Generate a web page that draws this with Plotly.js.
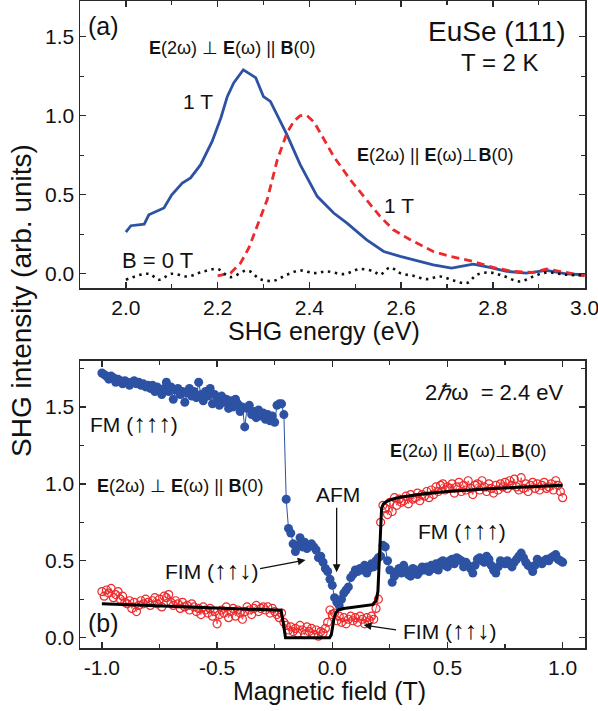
<!DOCTYPE html>
<html>
<head>
<meta charset="utf-8">
<script src="https://cdn.plot.ly/plotly-3.0.1.min.js"></script>
<style>
html,body{margin:0;padding:0;background:#fff;}
#chart{width:598px;height:711px;}
</style>
</head>
<body>
<div id="chart"></div>
<script>
// ---------- Panel (a): SHG spectra ----------
const energyPerp = [2.0,2.011,2.04,2.05,2.083,2.10,2.123,2.141,2.163,2.188,2.207,2.221,2.235,2.256,2.283,2.30,2.315,2.351,2.38,2.417,2.453,2.482,2.525,2.562,2.598,2.634,2.67,2.71,2.757,2.793,2.83,2.873,2.917,2.96,3.0];
const shgPerp1T = [0.264,0.304,0.314,0.373,0.416,0.50,0.574,0.606,0.69,0.837,0.985,1.12,1.207,1.29,1.24,1.12,1.09,0.88,0.69,0.49,0.384,0.32,0.215,0.141,0.11,0.082,0.057,0.036,0.061,0.04,0.015,0.004,0.021,0.0,-0.006];

const energyPar = [2.2,2.228,2.25,2.268,2.286,2.308,2.33,2.351,2.366,2.38,2.395,2.41,2.424,2.453,2.489,2.525,2.554,2.583,2.62,2.67,2.707,2.757,2.80,2.844,2.888,2.917,2.96,3.0];
const shgPar1T = [-0.013,0.004,0.068,0.163,0.30,0.468,0.72,0.89,0.964,1.0,1.0,0.96,0.89,0.742,0.595,0.468,0.363,0.278,0.215,0.141,0.11,0.078,0.04,0.015,0.008,0.03,0.006,-0.013];

const energyZero = [2.0,2.05,2.072,2.10,2.134,2.163,2.20,2.228,2.265,2.293,2.322,2.351,2.38,2.41,2.438,2.475,2.51,2.54,2.554,2.576,2.598,2.627,2.656,2.685,2.714,2.743,2.765,2.793,2.822,2.859,2.888,2.917,2.96,3.0];
const shgZero = [-0.038,0.0,-0.038,0.0,-0.017,0.008,0.03,-0.021,0.021,-0.034,-0.044,-0.006,0.021,0.004,0.015,-0.002,0.03,0.015,-0.006,0.04,0.004,-0.013,-0.034,-0.017,-0.042,-0.059,-0.006,0.008,-0.013,-0.049,-0.017,0.008,-0.006,-0.01];

// ---------- Panel (b): field dependence at 2.4 eV ----------
const fieldT = [-1.00,-0.99,-0.98,-0.97,-0.96,-0.95,-0.94,-0.93,-0.92,-0.91,-0.90,-0.89,-0.88,-0.87,-0.86,-0.85,-0.84,-0.83,-0.82,-0.81,-0.80,-0.79,-0.78,-0.77,-0.76,-0.75,-0.74,-0.73,-0.72,-0.71,-0.70,-0.69,-0.68,-0.67,-0.66,-0.65,-0.64,-0.63,-0.62,-0.61,-0.60,-0.59,-0.58,-0.57,-0.56,-0.55,-0.54,-0.53,-0.52,-0.51,-0.50,-0.49,-0.48,-0.47,-0.46,-0.45,-0.44,-0.43,-0.42,-0.41,-0.40,-0.39,-0.38,-0.37,-0.36,-0.35,-0.34,-0.33,-0.32,-0.31,-0.30,-0.29,-0.28,-0.27,-0.26,-0.25,-0.24,-0.23,-0.22,-0.21,-0.20,-0.19,-0.18,-0.17,-0.16,-0.15,-0.14,-0.13,-0.12,-0.11,-0.10,-0.09,-0.08,-0.07,-0.06,-0.05,-0.04,-0.03,-0.02,-0.01,0.00,0.01,0.02,0.03,0.04,0.05,0.06,0.07,0.08,0.09,0.10,0.11,0.12,0.13,0.14,0.15,0.16,0.17,0.18,0.19,0.20,0.21,0.22,0.23,0.24,0.25,0.26,0.27,0.28,0.29,0.30,0.31,0.32,0.33,0.34,0.35,0.36,0.37,0.38,0.39,0.40,0.41,0.42,0.43,0.44,0.45,0.46,0.47,0.48,0.49,0.50,0.51,0.52,0.53,0.54,0.55,0.56,0.57,0.58,0.59,0.60,0.61,0.62,0.63,0.64,0.65,0.66,0.67,0.68,0.69,0.70,0.71,0.72,0.73,0.74,0.75,0.76,0.77,0.78,0.79,0.80,0.81,0.82,0.83,0.84,0.85,0.86,0.87,0.88,0.89,0.90,0.91,0.92,0.93,0.94,0.95,0.96,0.97,0.98,0.99,1.00];

const shgBluePerp = [
1.72,1.71,1.70,1.68,1.70,1.69,1.66,1.68,1.67,1.65,1.67,
1.66,1.64,1.66,1.67,1.65,1.66,1.64,1.65,1.63,1.64,
1.62,1.64,1.60,1.63,1.61,1.58,1.62,1.66,1.60,1.63,
1.55,1.61,1.62,1.58,1.60,1.53,1.59,1.62,1.57,1.60,
1.56,1.66,1.58,1.54,1.60,1.57,1.62,1.52,1.58,1.55,
1.51,1.57,1.53,1.55,1.49,1.54,1.50,1.55,1.52,1.47,
1.50,1.37,1.49,1.51,1.45,1.47,1.43,1.48,1.44,1.46,
1.42,1.45,1.41,1.44,1.40,1.51,1.52,1.52,1.45,0.90,
0.71,0.68,0.61,0.56,0.60,0.65,0.59,0.62,0.58,0.60,
0.61,0.59,0.57,0.52,0.53,0.49,0.45,0.43,0.38,0.34,
0.26,0.23,0.21,0.25,0.29,0.31,0.33,0.39,0.41,0.44,
0.43,0.45,0.44,0.47,0.42,0.45,0.48,0.46,0.50,0.52,
0.53,0.60,0.59,0.50,0.44,0.36,0.40,0.43,0.45,0.42,
0.47,0.44,0.41,0.40,0.45,0.44,0.41,0.43,0.46,0.44,
0.46,0.43,0.47,0.45,0.48,0.44,0.49,0.50,0.47,0.46,
0.50,0.51,0.48,0.52,0.51,0.50,0.46,0.49,0.47,0.45,
0.42,0.47,0.51,0.52,0.50,0.49,0.53,0.51,0.47,0.44,
0.42,0.46,0.50,0.49,0.48,0.50,0.48,0.46,0.49,0.51,
0.53,0.55,0.52,0.49,0.47,0.46,0.43,0.47,0.51,0.49,
0.48,0.50,0.51,0.50,0.52,0.53,0.54,0.51,0.50,0.49];

const shgRedPar = [
0.30,0.27,0.31,0.29,0.32,0.26,0.28,0.30,0.25,0.27,0.23,
0.22,0.24,0.19,0.23,0.17,0.21,0.24,0.22,0.25,0.23,
0.21,0.24,0.26,0.22,0.25,0.20,0.27,0.26,0.28,0.23,
0.21,0.24,0.22,0.19,0.23,0.20,0.21,0.18,0.22,0.20,
0.17,0.19,0.15,0.20,0.18,0.16,0.19,0.14,0.17,0.09,
0.15,0.18,0.16,0.20,0.13,0.17,0.19,0.14,0.18,0.16,
0.12,0.17,0.20,0.18,0.15,0.19,0.21,0.17,0.19,0.20,
0.18,0.20,0.16,0.19,0.17,0.15,0.13,0.16,0.10,0.08,
0.05,0.07,0.04,0.06,0.03,0.08,0.05,0.02,0.07,0.04,
0.06,0.02,0.05,0.01,0.04,0.03,0.06,0.10,0.18,0.15,
0.16,0.11,0.14,0.10,0.13,0.09,0.12,0.14,0.11,0.13,
0.10,0.14,0.12,0.09,0.13,0.11,0.14,0.12,0.19,0.25,
0.75,0.86,0.84,0.80,0.88,0.82,0.91,0.86,0.90,0.88,
0.89,0.92,0.87,0.93,0.90,0.91,0.94,0.89,0.93,0.92,
0.95,0.91,0.96,0.93,0.98,0.95,0.99,1.00,0.96,0.98,
0.97,1.00,0.94,0.98,1.01,0.95,0.99,0.96,1.02,0.97,
0.93,0.99,1.00,0.96,1.02,0.98,0.95,1.00,0.97,0.94,
0.99,0.96,1.00,0.98,1.01,0.97,1.02,0.99,1.03,0.98,
0.96,1.04,0.97,1.00,0.95,0.99,1.01,0.97,1.00,0.96,
0.99,1.01,0.97,0.98,1.00,0.96,1.02,0.99,0.95,0.91];

const fitField = [-1.0,-0.8,-0.6,-0.4,-0.25,-0.222,-0.212,-0.203,-0.1,-0.012,-0.004,0.002,0.008,0.015,0.025,0.05,0.1,0.15,0.175,0.19,0.198,0.204,0.209,0.214,0.222,0.235,0.26,0.3,0.4,0.5,0.7,1.0];
const fitSHG  = [0.22,0.21,0.20,0.19,0.182,0.178,0.09,0.0,0.0,0.0,0.02,0.08,0.13,0.16,0.18,0.19,0.20,0.21,0.215,0.24,0.30,0.50,0.72,0.84,0.87,0.885,0.90,0.915,0.935,0.95,0.97,0.99];

const xTicksA = [2.0,2.2,2.4,2.6,2.8,3.0];
const xTickTextA = ["2.0","2.2","2.4","2.6","2.8","3.0"];
const yTicks = [0.0,0.5,1.0,1.5];
const yTickText = ["0.0","0.5","1.0","1.5"];
const xTicksB = [-1.0,-0.5,0.0,0.5,1.0];
const xTickTextB = ["-1.0","-0.5","0.0","0.5","1.0"];

const BLUE = '#2d52a3';
const RED = '#ec2a2c';
const AX = '#2a2a2a';
const FONT = 'Liberation Sans, Arial, Helvetica, sans-serif';

const traces = [
  {x: energyPerp, y: shgPerp1T, xaxis:'x', yaxis:'y', mode:'lines', line:{color:BLUE, width:2.8}},
  {x: energyPar, y: shgPar1T, xaxis:'x', yaxis:'y', mode:'lines', line:{color:RED, width:2.8, dash:'8px,5px'}},
  {x: energyZero, y: shgZero, xaxis:'x', yaxis:'y', mode:'lines', line:{color:'#111', width:2.6, dash:'2.5px,4.5px', shape:'spline'}},
  {x: fieldT, y: shgRedPar, xaxis:'x2', yaxis:'y2', mode:'lines+markers',
   line:{color:RED, width:0.8}, marker:{symbol:'circle-open', size:8, color:RED, line:{width:1.2, color:RED}}},
  {x: fieldT, y: shgBluePerp, xaxis:'x2', yaxis:'y2', mode:'lines+markers',
   line:{color:BLUE, width:1}, marker:{symbol:'circle', size:9, color:BLUE}},
  {x: fitField, y: fitSHG, xaxis:'x2', yaxis:'y2', mode:'lines', line:{color:'#000', width:3}}
];

function axisBase(extra){
  return Object.assign({
    showline:true, linecolor:AX, linewidth:1.5, mirror:'ticks',
    ticks:'inside', ticklen:6, tickwidth:1.4, tickcolor:AX,
    showgrid:false, zeroline:false,
    tickfont:{family:FONT, size:21, color:'#111'},
    tickmode:'array', ticklabeloverflow:'allow'
  }, extra);
}

const annFont = (s, c) => ({family:FONT, size:s, color:c || '#111'});
const ann = (x, y, text, size, ref) => ({x:x, y:y, xref:ref[0], yref:ref[1], text:text, showarrow:false, font:annFont(size), xanchor:'center', yanchor:'middle'});
const A = ['x','y'], B = ['x2','y2'];
const arr = s => '<span style="font-size:25px">' + s + '</span>';
const bold1 = '<b>E</b>(2ω) ⊥ <b>E</b>(ω) || <b>B</b>(0)';
const bold2 = '<b>E</b>(2ω) || <b>E</b>(ω)⊥<b>B</b>(0)';

const annotations = [
  ann(1.952, 1.57, '(a)', 25, A),
  ann(2.232, 1.43, bold1, 18, A),
  ann(2.157, 1.089, '1 T', 21, A),
  ann(2.807, 1.532, 'EuSe (111)', 28, A),
  ann(2.815, 1.335, 'T = 2 K', 24, A),
  ann(2.674, 0.753, bold2, 18, A),
  ann(2.596, 0.43, '1 T', 21, A),
  ann(2.07, 0.082, 'B = 0 T', 22, A),

  ann(0.706, 1.595, '2<i>ℏ</i>ω  = 2.4 eV', 22, B),
  ann(-0.86, 1.394, 'FM (' + arr('↑↑↑') + ')', 21, B),
  ann(-0.66, 0.985, bold1, 18, B),
  ann(-0.525, 0.44, 'FIM (' + arr('↑↑↓') + ')', 21, B),
  ann(0.023, 0.933, 'AFM', 21, B),
  ann(0.588, 1.213, bold2, 18, B),
  ann(0.562, 0.70, 'FM (' + arr('↑↑↑') + ')', 21, B),
  ann(0.51, 0.05, 'FIM (' + arr('↑↑↓') + ')', 21, B),
  ann(-0.994, 0.095, '(b)', 25, B),

  // arrows
  {x:-0.116, y:0.505, xref:'x2', yref:'y2', ax:-47, ay:9, text:'', showarrow:true, arrowhead:2, arrowsize:1.2, arrowwidth:1.3, arrowcolor:'#111'},
  {x:0.019, y:0.426, xref:'x2', yref:'y2', ax:0, ay:-66, text:'', showarrow:true, arrowhead:2, arrowsize:1.2, arrowwidth:1.3, arrowcolor:'#111'},
  {x:0.136, y:0.082, xref:'x2', yref:'y2', ax:34, ay:5, text:'', showarrow:true, arrowhead:2, arrowsize:1.2, arrowwidth:1.3, arrowcolor:'#111'},

  // axis titles
  {x:0.483, y:0.49, xref:'paper', yref:'paper', text:'SHG energy (eV)', showarrow:false, font:annFont(25), xanchor:'center', yanchor:'middle'},
  {x:0.495, y:-0.067, xref:'paper', yref:'paper', text:'Magnetic field (T)', showarrow:false, font:annFont(25), xanchor:'center', yanchor:'middle'},
  {x:-0.1149, y:0.538, xref:'paper', yref:'paper', text:'SHG intensity (arb. units)', textangle:-90, showarrow:false, font:annFont(28), xanchor:'center', yanchor:'middle'}
];

const layout = {
  width:598, height:711,
  margin:{l:80, r:13, t:1, b:63},
  paper_bgcolor:'#fff', plot_bgcolor:'#fff',
  showlegend:false,
  font:{family:FONT},
  xaxis: axisBase({domain:[0,1], range:[1.9,3.0008], anchor:'y', tickvals:xTicksA, ticktext:xTickTextA,
    minor:{ticks:'inside', ticklen:4, tickwidth:1.2, tickcolor:AX, tickmode:'linear', tick0:1.9, dtick:0.1}}),
  yaxis: axisBase({domain:[0.5564,1], range:[-0.09,1.725], anchor:'x', tickvals:yTicks, ticktext:yTickText,
    minor:{ticks:'inside', ticklen:4, tickwidth:1.2, tickcolor:AX, tickmode:'linear', tick0:0, dtick:0.25}}),
  xaxis2: axisBase({domain:[0,1], range:[-1.095,1.097], anchor:'y2', tickvals:xTicksB, ticktext:xTickTextB,
    minor:{ticks:'inside', ticklen:4, tickwidth:1.2, tickcolor:AX, tickmode:'linear', tick0:0, dtick:0.25}}),
  yaxis2: axisBase({domain:[0,0.444], range:[-0.067,1.8], anchor:'x2', tickvals:yTicks, ticktext:yTickText,
    minor:{ticks:'inside', ticklen:4, tickwidth:1.2, tickcolor:AX, tickmode:'linear', tick0:0, dtick:0.25}}),
  annotations: annotations
};

Plotly.newPlot('chart', traces, layout, {displayModeBar:false, staticPlot:true});
</script>
</body>
</html>
